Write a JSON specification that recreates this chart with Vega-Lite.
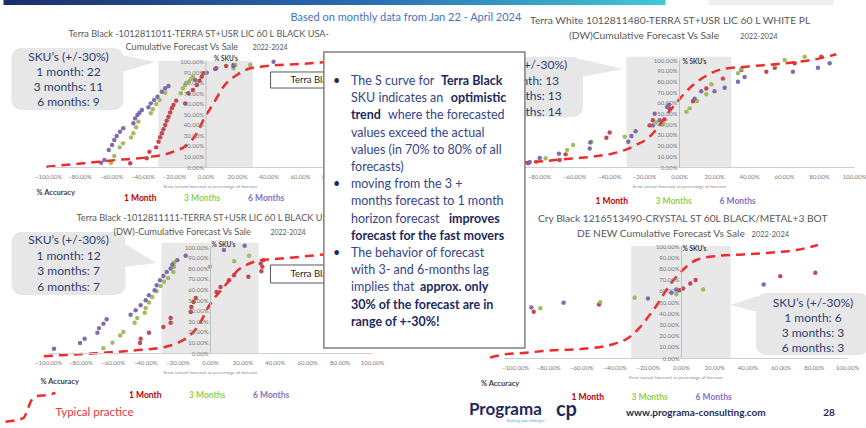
{
"$schema":"https://vega.github.io/schema/vega-lite/v6.json",
"background":"white",
"padding":0,
"bounds":"flush",
"align":"none",
"columns":2,
"spacing":{"row":79,"column":132},
"config":{"view":{"stroke":null},"font":"Lato",
 "axis":{"grid":false,"ticks":false,"zindex":1,"labelFont":"Lato","titleFont":"Lato","labelFontSize":6,"labelColor":"#7a7a7a","domainColor":"#d0d0d0","domainWidth":1,"labelFlush":false,"labelOverlap":false,"tickCount":12},
 "text":{"clip":false,"align":"left","baseline":"middle"},
 "legend":{"orient":"none","direction":"horizontal","symbolSize":0,"symbolStrokeWidth":0,"symbolOpacity":0,"labelOffset":0,"columnPadding":19,"labelFontSize":8.5,"labelFontWeight":"bold","labelFont":"Lato","labelColor":{"expr":"datum.label === '1 Month' ? '#c00000' : datum.label === '3 Months' ? '#92d050' : '#8a72c0'"}}},
"resolve":{"scale":{"color":"independent"},"legend":{"color":"independent"}},
"datasets":{
"pA":[
{"horizon":"1 Month","error":-0.478,"share":0.035},{"horizon":"1 Month","error":-0.373,"share":0.083},{"horizon":"1 Month","error":-0.356,"share":0.146},{"horizon":"1 Month","error":-0.313,"share":0.187},{"horizon":"1 Month","error":-0.298,"share":0.241},{"horizon":"1 Month","error":-0.288,"share":0.283},{"horizon":"1 Month","error":-0.277,"share":0.321},{"horizon":"1 Month","error":-0.267,"share":0.359},{"horizon":"1 Month","error":-0.256,"share":0.4},{"horizon":"1 Month","error":-0.246,"share":0.441},{"horizon":"1 Month","error":-0.235,"share":0.479},{"horizon":"1 Month","error":-0.224,"share":0.518},{"horizon":"1 Month","error":-0.214,"share":0.559},{"horizon":"1 Month","error":-0.203,"share":0.59},{"horizon":"1 Month","error":-0.186,"share":0.632},{"horizon":"1 Month","error":-0.129,"share":0.606},{"horizon":"1 Month","error":-0.108,"share":0.702},{"horizon":"1 Month","error":-0.08,"share":0.733},{"horizon":"1 Month","error":-0.055,"share":0.781},{"horizon":"1 Month","error":-0.038,"share":0.822},{"horizon":"1 Month","error":-0.024,"share":0.86},{"horizon":"1 Month","error":-0.013,"share":0.892},{"horizon":"1 Month","error":0.068,"share":0.94},{"horizon":"1 Month","error":0.131,"share":0.962},{"horizon":"1 Month","error":0.178,"share":0.971},
{"horizon":"3 Months","error":-0.6,"share":0.041},{"horizon":"3 Months","error":-0.579,"share":0.105},{"horizon":"3 Months","error":-0.545,"share":0.187},{"horizon":"3 Months","error":-0.524,"share":0.225},{"horizon":"3 Months","error":-0.473,"share":0.282},{"horizon":"3 Months","error":-0.458,"share":0.321},{"horizon":"3 Months","error":-0.441,"share":0.378},{"horizon":"3 Months","error":-0.426,"share":0.432},{"horizon":"3 Months","error":-0.347,"share":0.511},{"horizon":"3 Months","error":-0.334,"share":0.549},{"horizon":"3 Months","error":-0.313,"share":0.6},{"horizon":"3 Months","error":-0.292,"share":0.638},{"horizon":"3 Months","error":-0.256,"share":0.708},{"horizon":"3 Months","error":-0.157,"share":0.702},{"horizon":"3 Months","error":-0.144,"share":0.749},{"horizon":"3 Months","error":-0.129,"share":0.781},{"horizon":"3 Months","error":-0.108,"share":0.813},{"horizon":"3 Months","error":-0.093,"share":0.835},{"horizon":"3 Months","error":-0.08,"share":0.86},{"horizon":"3 Months","error":0.178,"share":0.94},{"horizon":"3 Months","error":0.189,"share":0.971},{"horizon":"3 Months","error":0.284,"share":0.971},
{"horizon":"6 Months","error":-0.663,"share":0.041},{"horizon":"6 Months","error":-0.642,"share":0.067},{"horizon":"6 Months","error":-0.614,"share":0.162},{"horizon":"6 Months","error":-0.593,"share":0.21},{"horizon":"6 Months","error":-0.579,"share":0.257},{"horizon":"6 Months","error":-0.564,"share":0.295},{"horizon":"6 Months","error":-0.543,"share":0.336},{"horizon":"6 Months","error":-0.522,"share":0.368},{"horizon":"6 Months","error":-0.458,"share":0.416},{"horizon":"6 Months","error":-0.447,"share":0.463},{"horizon":"6 Months","error":-0.432,"share":0.495},{"horizon":"6 Months","error":-0.419,"share":0.517},{"horizon":"6 Months","error":-0.404,"share":0.543},{"horizon":"6 Months","error":-0.362,"share":0.568},{"horizon":"6 Months","error":-0.347,"share":0.606},{"horizon":"6 Months","error":-0.326,"share":0.638},{"horizon":"6 Months","error":-0.305,"share":0.67},{"horizon":"6 Months","error":-0.277,"share":0.717},{"horizon":"6 Months","error":-0.256,"share":0.749},{"horizon":"6 Months","error":-0.235,"share":0.771},{"horizon":"6 Months","error":-0.066,"share":0.829},{"horizon":"6 Months","error":0.008,"share":0.898},{"horizon":"6 Months","error":0.061,"share":0.933},{"horizon":"6 Months","error":0.178,"share":0.962},{"horizon":"6 Months","error":0.432,"share":1.003}],
"cA":[{"error":-1.01,"share":0.003},{"error":-0.775,"share":0.035},{"error":-0.563,"share":0.067},{"error":-0.372,"share":0.092},{"error":-0.203,"share":0.146},{"error":-0.118,"share":0.21},{"error":-0.055,"share":0.321},{"error":-0.013,"share":0.448},{"error":0.051,"share":0.606},{"error":0.114,"share":0.765},{"error":0.199,"share":0.876},{"error":0.284,"share":0.94},{"error":0.389,"share":0.962},{"error":0.601,"share":0.981},{"error":0.8,"share":1.003}],
"pB":[
{"horizon":"1 Month","error":-0.862,"share":0.034},{"horizon":"1 Month","error":-0.682,"share":0.065},{"horizon":"1 Month","error":-0.648,"share":0.118},{"horizon":"1 Month","error":-0.415,"share":0.273},{"horizon":"1 Month","error":-0.396,"share":0.323},{"horizon":"1 Month","error":-0.168,"share":0.389},{"horizon":"1 Month","error":-0.149,"share":0.436},{"horizon":"1 Month","error":-0.082,"share":0.445},{"horizon":"1 Month","error":-0.053,"share":0.545},{"horizon":"1 Month","error":0.08,"share":0.614},{"horizon":"1 Month","error":0.156,"share":0.733},{"horizon":"1 Month","error":0.251,"share":0.826},{"horizon":"1 Month","error":0.356,"share":0.906},{"horizon":"1 Month","error":0.499,"share":0.891},{"horizon":"1 Month","error":0.547,"share":0.928},{"horizon":"1 Month","error":0.661,"share":0.969},{"horizon":"1 Month","error":0.813,"share":1.031},
{"horizon":"3 Months","error":-0.815,"share":0.047},{"horizon":"3 Months","error":-0.762,"share":0.081},{"horizon":"3 Months","error":-0.639,"share":0.159},{"horizon":"3 Months","error":-0.605,"share":0.206},{"horizon":"3 Months","error":-0.501,"share":0.237},{"horizon":"3 Months","error":-0.31,"share":0.283},{"horizon":"3 Months","error":-0.13,"share":0.417},{"horizon":"3 Months","error":-0.091,"share":0.405},{"horizon":"3 Months","error":0.042,"share":0.517},{"horizon":"3 Months","error":0.061,"share":0.548},{"horizon":"3 Months","error":0.103,"share":0.617},{"horizon":"3 Months","error":0.156,"share":0.68},{"horizon":"3 Months","error":0.185,"share":0.773},{"horizon":"3 Months","error":0.337,"share":0.876},{"horizon":"3 Months","error":0.356,"share":0.916},{"horizon":"3 Months","error":0.547,"share":0.953},{"horizon":"3 Months","error":0.604,"share":1.0},{"horizon":"3 Months","error":0.718,"share":1.031},
{"horizon":"6 Months","error":-0.853,"share":0.047},{"horizon":"6 Months","error":-0.796,"share":0.084},{"horizon":"6 Months","error":-0.686,"share":0.125},{"horizon":"6 Months","error":-0.51,"share":0.173},{"horizon":"6 Months","error":-0.507,"share":0.229},{"horizon":"6 Months","error":-0.29,"share":0.235},{"horizon":"6 Months","error":-0.272,"share":0.29},{"horizon":"6 Months","error":-0.248,"share":0.334},{"horizon":"6 Months","error":-0.149,"share":0.389},{"horizon":"6 Months","error":-0.139,"share":0.498},{"horizon":"6 Months","error":-0.11,"share":0.436},{"horizon":"6 Months","error":-0.068,"share":0.561},{"horizon":"6 Months","error":-0.057,"share":0.583},{"horizon":"6 Months","error":0.089,"share":0.639},{"horizon":"6 Months","error":0.127,"share":0.708},{"horizon":"6 Months","error":0.203,"share":0.708},{"horizon":"6 Months","error":0.261,"share":0.74},{"horizon":"6 Months","error":0.337,"share":0.797},{"horizon":"6 Months","error":0.375,"share":0.841},{"horizon":"6 Months","error":0.651,"share":0.891},{"horizon":"6 Months","error":0.794,"share":0.928},{"horizon":"6 Months","error":0.861,"share":0.969}],
"cB":[{"error":-1.0,"share":0.035},{"error":-0.872,"share":0.044},{"error":-0.758,"share":0.056},{"error":-0.644,"share":0.075},{"error":-0.491,"share":0.097},{"error":-0.339,"share":0.143},{"error":-0.244,"share":0.206},{"error":-0.168,"share":0.283},{"error":-0.11,"share":0.393},{"error":-0.072,"share":0.486},{"error":-0.025,"share":0.579},{"error":0.023,"share":0.673},{"error":0.08,"share":0.766},{"error":0.156,"share":0.853},{"error":0.251,"share":0.916},{"error":0.385,"share":0.938},{"error":0.537,"share":0.959},{"error":0.69,"share":0.984},{"error":0.804,"share":1.015},{"error":0.899,"share":1.053}],
"pC":[
{"horizon":"1 Month","error":-0.432,"share":0.094},{"horizon":"1 Month","error":-0.428,"share":0.134},{"horizon":"1 Month","error":-0.377,"share":0.191},{"horizon":"1 Month","error":-0.288,"share":0.245},{"horizon":"1 Month","error":-0.243,"share":0.286},{"horizon":"1 Month","error":-0.243,"share":0.33},{"horizon":"1 Month","error":-0.119,"share":0.387},{"horizon":"1 Month","error":-0.115,"share":0.434},{"horizon":"1 Month","error":-0.102,"share":0.482},{"horizon":"1 Month","error":-0.088,"share":0.519},{"horizon":"1 Month","error":0.041,"share":0.577},{"horizon":"1 Month","error":0.065,"share":0.624},{"horizon":"1 Month","error":0.117,"share":0.687},{"horizon":"1 Month","error":0.148,"share":0.735},{"horizon":"1 Month","error":0.237,"share":0.719},{"horizon":"1 Month","error":0.313,"share":0.846},{"horizon":"1 Month","error":0.323,"share":0.814},{"horizon":"1 Month","error":0.317,"share":0.773},{"horizon":"1 Month","error":0.329,"share":0.877},
{"horizon":"3 Months","error":-0.658,"share":0.046},{"horizon":"3 Months","error":-0.602,"share":0.097},{"horizon":"3 Months","error":-0.555,"share":0.166},{"horizon":"3 Months","error":-0.535,"share":0.198},{"horizon":"3 Months","error":-0.465,"share":0.286},{"horizon":"3 Months","error":-0.449,"share":0.33},{"horizon":"3 Months","error":-0.403,"share":0.381},{"horizon":"3 Months","error":-0.397,"share":0.425},{"horizon":"3 Months","error":-0.377,"share":0.476},{"horizon":"3 Months","error":-0.356,"share":0.529},{"horizon":"3 Months","error":-0.329,"share":0.583},{"horizon":"3 Months","error":-0.305,"share":0.633},{"horizon":"3 Months","error":-0.284,"share":0.672},{"horizon":"3 Months","error":-0.259,"share":0.709},{"horizon":"3 Months","error":-0.226,"share":0.766},{"horizon":"3 Months","error":-0.222,"share":0.814},{"horizon":"3 Months","error":-0.222,"share":0.855},{"horizon":"3 Months","error":0.0,"share":0.814},{"horizon":"3 Months","error":0.149,"share":0.867},{"horizon":"3 Months","error":0.241,"share":0.918},
{"horizon":"6 Months","error":-0.963,"share":0.04},{"horizon":"6 Months","error":-0.802,"share":0.094},{"horizon":"6 Months","error":-0.774,"share":0.134},{"horizon":"6 Months","error":-0.695,"share":0.191},{"horizon":"6 Months","error":-0.685,"share":0.235},{"horizon":"6 Months","error":-0.658,"share":0.277},{"horizon":"6 Months","error":-0.638,"share":0.318},{"horizon":"6 Months","error":-0.49,"share":0.362},{"horizon":"6 Months","error":-0.459,"share":0.403},{"horizon":"6 Months","error":-0.428,"share":0.45},{"horizon":"6 Months","error":-0.397,"share":0.498},{"horizon":"6 Months","error":-0.377,"share":0.545},{"horizon":"6 Months","error":-0.342,"share":0.593},{"horizon":"6 Months","error":-0.329,"share":0.64},{"horizon":"6 Months","error":-0.309,"share":0.687},{"horizon":"6 Months","error":-0.288,"share":0.728},{"horizon":"6 Months","error":-0.267,"share":0.766},{"horizon":"6 Months","error":-0.243,"share":0.798},{"horizon":"6 Months","error":-0.232,"share":0.836},{"horizon":"6 Months","error":-0.202,"share":0.877},{"horizon":"6 Months","error":-0.15,"share":0.918},{"horizon":"6 Months","error":0.086,"share":0.972},{"horizon":"6 Months","error":0.214,"share":1.013}],
"cC":[{"error":-1.025,"share":-0.03},{"error":-0.881,"share":-0.018},{"error":-0.675,"share":0.001},{"error":-0.469,"share":0.024},{"error":-0.284,"share":0.055},{"error":-0.181,"share":0.109},{"error":-0.119,"share":0.172},{"error":-0.078,"share":0.245},{"error":-0.047,"share":0.324},{"error":-0.016,"share":0.419},{"error":0.025,"share":0.514},{"error":0.077,"share":0.608},{"error":0.128,"share":0.703},{"error":0.173,"share":0.782},{"error":0.231,"share":0.836},{"error":0.313,"share":0.877},{"error":0.395,"share":0.887},{"error":0.56,"share":0.909},{"error":0.704,"share":0.931},{"error":0.9,"share":0.95}],
"tp":[{"error":-1.262,"share":-0.649},{"error":-1.194,"share":-0.633},{"error":-1.151,"share":-0.614},{"error":-1.127,"share":-0.538},{"error":-1.108,"share":-0.463},{"error":-1.071,"share":-0.406},{"error":-1.009,"share":-0.397},{"error":-0.954,"share":-0.378}],
"pD":[
{"horizon":"1 Month","error":-0.887,"share":0.412},{"horizon":"1 Month","error":-0.494,"share":0.478},{"horizon":"1 Month","error":-0.008,"share":0.606},{"horizon":"1 Month","error":0.012,"share":0.621},{"horizon":"1 Month","error":0.056,"share":0.666},{"horizon":"1 Month","error":0.088,"share":0.696},{"horizon":"1 Month","error":0.598,"share":0.731},{"horizon":"1 Month","error":0.809,"share":0.761},
{"horizon":"3 Months","error":-0.847,"share":0.445},{"horizon":"3 Months","error":-0.486,"share":0.499},{"horizon":"3 Months","error":-0.279,"share":0.538},{"horizon":"3 Months","error":-0.028,"share":0.57},{"horizon":"3 Months","error":0.133,"share":0.612},
{"horizon":"6 Months","error":-0.901,"share":0.452},{"horizon":"6 Months","error":-0.707,"share":0.493},{"horizon":"6 Months","error":-0.199,"share":0.532},{"horizon":"6 Months","error":-0.058,"share":0.582},{"horizon":"6 Months","error":-0.028,"share":0.612},{"horizon":"6 Months","error":0.498,"share":0.657}],
"cD":[{"error":-1.15,"share":0.005},{"error":-1.072,"share":0.03},{"error":-0.952,"share":0.045},{"error":-0.771,"share":0.069},{"error":-0.57,"share":0.084},{"error":-0.41,"share":0.123},{"error":-0.309,"share":0.188},{"error":-0.249,"share":0.272},{"error":-0.189,"share":0.383},{"error":-0.139,"share":0.487},{"error":-0.088,"share":0.607},{"error":-0.028,"share":0.725},{"error":0.032,"share":0.815},{"error":0.092,"share":0.875},{"error":0.213,"share":0.911},{"error":0.373,"share":0.925},{"error":0.534,"share":0.94},{"error":0.695,"share":0.964},{"error":0.825,"share":1.009}]
},
"concat":[
{"width":324,"height":107,
 "layer":[
  {"data":{"values":[{}]},"mark":{"type":"rect","color":"#e8e8e8"},
   "encoding":{"x":{"datum":-0.3,"type":"quantitative","scale":{"domain":[-1,1.0571],"nice":false,"zero":false},"axis":{"zindex":1,"tickCount":12,"labelOverlap":false,"values":[-1,-0.8,-0.6,-0.4,-0.2,0,0.2,0.4,0.6,0.8,1],"format":".2%","labelPadding":6,"title":"Error (actual-forecast) as percentage of forecast","titleFontSize":4.5,"titleFontWeight":"normal","titleColor":"#8c8c8c","titlePadding":4}},
    "x2":{"datum":0.3},
    "y":{"datum":0,"type":"quantitative","scale":{"domain":[0,1.019],"nice":false,"zero":false},"axis":{"zindex":1,"tickCount":12,"labelOverlap":false,"values":[0,0.1,0.2,0.3,0.4,0.5,0.6,0.7,0.8,0.9,1],"format":".2%","offset":-157.5,"labelPadding":2,"domainColor":"#bfbfbf","title":"% SKU’s","titleAngle":0,"titleAlign":"left","titleBaseline":"middle","titleX":8,"titleY":-2,"titleFontSize":6.5,"titleFontWeight":"bold","titleColor":"#404040"}},
    "y2":{"datum":1.01}}},
  {"data":{"values":[{}]},"mark":{"type":"rect","clip":false,"fill":{"x1":0,"x2":1,"y1":0,"y2":0,"gradient":"linear","stops":[{"offset":0,"color":"#1b2d6b"},{"offset":0.55,"color":"#2a6db3"},{"offset":1,"color":"#41c9d8"}]}},
   "encoding":{"x":{"datum":-1.2825},"x2":{"datum":2.921},"y":{"datum":1.59},"y2":{"datum":1.543}}},
  {"data":{"values":[{}]},"mark":{"type":"rect","clip":false,"color":"#efefef"},
   "encoding":{"x":{"datum":3.194},"x2":{"datum":3.987},"y":{"datum":1.59},"y2":{"datum":1.543}}},
  {"data":{"name":"pA"},"mark":{"type":"circle","size":20,"opacity":0.95},
   "encoding":{"x":{"field":"error","type":"quantitative"},"y":{"field":"share","type":"quantitative"},
    "color":{"field":"horizon","type":"nominal","scale":{"domain":["1 Month","3 Months","6 Months"],"range":["#c0404a","#9bbb59","#7e63a8"]},
     "legend":{"title":null,"legendX":67.5,"legendY":133.5}}}},
  {"data":{"name":"cA"},"mark":{"type":"line","clip":false,"color":"#ef2b2d","strokeWidth":2.5,"strokeDash":[9,6],"interpolate":"monotone"},
   "encoding":{"x":{"field":"error","type":"quantitative"},"y":{"field":"share","type":"quantitative"}}},
  {"data":{"values":[{}]},"mark":{"type":"rect","clip":false,"fill":"#e7e7e7","cornerRadius":10},
   "encoding":{"x":{"datum":-1.232},"x2":{"datum":-0.521},"y":{"datum":1.133},"y2":{"datum":0.543}}},
  {"data":{"values":[{}]},"mark":{"type":"point","clip":false,"shape":"M -2 -5 L 32 2 L -2 12 Z","size":4,"filled":true,"fill":"#e7e7e7","opacity":1,"strokeWidth":0},
   "encoding":{"x":{"datum":-0.521},"y":{"datum":1.019}}},
  {"data":{"values":[{}]},"mark":{"type":"text","text":["SKU’s (+/-30%)","1 month: 22","3 months: 11","6 months: 9"],"lineHeight":15,"align":"center","fontSize":12,"color":"#2f3d73"},
   "encoding":{"x":{"datum":-0.87},"y":{"datum":1.048}}},
  {"data":{"values":[{}]},"mark":{"type":"rect","clip":false,"fill":"white","stroke":"#595959","strokeWidth":1},
   "encoding":{"x":{"datum":0.413},"x2":{"datum":1.003},"y":{"datum":0.905},"y2":{"datum":0.752}}},
  {"data":{"values":[{}]},"mark":{"type":"text","text":"Terra Black","fontSize":9.5,"color":"#262626"},
   "encoding":{"x":{"datum":0.54},"y":{"datum":0.829}}},
  {"data":{"values":[{}]},"mark":{"type":"text","text":"Based on monthly data from Jan 22  - April 2024","fontSize":11,"color":"#4472c4"},
   "encoding":{"x":{"datum":0.54},"y":{"datum":1.419}}},
  {"data":{"values":[{}]},"mark":{"type":"text","text":"Terra Black -1012811011-TERRA ST+USR LIC 60 L  BLACK USA-","fontSize":9.2,"color":"#595959"},
   "encoding":{"x":{"datum":-0.87},"y":{"datum":1.267}}},
  {"data":{"values":[{}]},"mark":{"type":"text","text":"Cumulative Forecast Vs Sale","fontSize":9.2,"color":"#595959"},
   "encoding":{"x":{"datum":-0.508},"y":{"datum":1.143}}},
  {"data":{"values":[{}]},"mark":{"type":"text","text":"2022-2024","fontSize":7,"color":"#595959"},
   "encoding":{"x":{"datum":0.298},"y":{"datum":1.133}}},
  {"data":{"values":[{}]},"mark":{"type":"text","text":"% Accuracy","fontSize":7.5,"fontWeight":"bold","color":"#404040"},
   "encoding":{"x":{"datum":-1.073},"y":{"datum":-0.248}}}
 ]},
{"width":350,"height":107,
 "layer":[
  {"data":{"values":[{}]},"mark":{"type":"rect","color":"#e8e8e8"},
   "encoding":{"x":{"datum":-0.3,"type":"quantitative","scale":{"domain":[-1,1],"nice":false,"zero":false},"axis":{"zindex":1,"tickCount":12,"labelOverlap":false,"values":[-1,-0.8,-0.6,-0.4,-0.2,0,0.2,0.4,0.6,0.8,1],"format":".2%","labelPadding":6,"title":"Error (actual-forecast) as percentage of forecast","titleFontSize":4.5,"titleFontWeight":"normal","titleColor":"#8c8c8c","titlePadding":4}},
    "x2":{"datum":0.3},
    "y":{"datum":0,"type":"quantitative","scale":{"domain":[0,1],"nice":false,"zero":false},"axis":{"zindex":1,"tickCount":12,"labelOverlap":false,"values":[0,0.1,0.2,0.3,0.4,0.5,0.6,0.7,0.8,0.9,1],"format":".2%","offset":-175,"labelPadding":2,"domainColor":"#bfbfbf","title":"% SKU’s","titleAngle":0,"titleAlign":"left","titleBaseline":"middle","titleX":3,"titleY":1,"titleFontSize":6.5,"titleFontWeight":"bold","titleColor":"#404040"}},
    "y2":{"datum":1.03}}},
  {"data":{"name":"pB"},"mark":{"type":"circle","size":20,"opacity":0.95},
   "encoding":{"x":{"field":"error","type":"quantitative"},"y":{"field":"share","type":"quantitative"},
    "color":{"field":"horizon","type":"nominal","scale":{"domain":["1 Month","3 Months","6 Months"],"range":["#c0404a","#9bbb59","#7e63a8"]},
     "legend":{"title":null,"legendX":83,"legendY":136.5}}}},
  {"data":{"name":"cB"},"mark":{"type":"line","clip":false,"color":"#ef2b2d","strokeWidth":2.5,"strokeDash":[9,6],"interpolate":"monotone"},
   "encoding":{"x":{"field":"error","type":"quantitative"},"y":{"field":"share","type":"quantitative"}}},
  {"data":{"values":[{}]},"mark":{"type":"rect","clip":false,"fill":"#e7e7e7","cornerRadius":10},
   "encoding":{"x":{"datum":-1.189},"x2":{"datum":-0.549},"y":{"datum":1.028},"y2":{"datum":0.467}}},
  {"data":{"values":[{}]},"mark":{"type":"point","clip":false,"shape":"M -2 -6 L 40 4 L -2 12 Z","size":4,"filled":true,"fill":"#e7e7e7","opacity":1,"strokeWidth":0},
   "encoding":{"x":{"datum":-0.549},"y":{"datum":0.953}}},
  {"data":{"values":[{}]},"mark":{"type":"text","text":["SKU’s (+/-30%)","1 month: 13","3 months: 13","6 months: 14"],"lineHeight":15.5,"align":"center","fontSize":12,"color":"#2f3d73"},
   "encoding":{"x":{"datum":-0.869},"y":{"datum":0.953}}},
  {"data":{"values":[{}]},"mark":{"type":"text","text":"Terra White 1012811480-TERRA ST+USR LIC 60 L  WHITE PL","fontSize":10.3,"color":"#595959"},
   "encoding":{"x":{"datum":-0.851},"y":{"datum":1.364}}},
  {"data":{"values":[{}]},"mark":{"type":"text","text":"(DW)Cumulative Forecast Vs Sale","fontSize":10.3,"color":"#595959"},
   "encoding":{"x":{"datum":-0.629},"y":{"datum":1.224}}},
  {"data":{"values":[{}]},"mark":{"type":"text","text":"2022-2024","fontSize":7.5,"color":"#595959"},
   "encoding":{"x":{"datum":0.349},"y":{"datum":1.215}}},
  {"data":{"values":[{}]},"mark":{"type":"text","text":"% Accuracy","fontSize":7.5,"fontWeight":"bold","color":"#404040"},
   "encoding":{"x":{"datum":-1.189},"y":{"datum":-0.28}}}
 ]},
{"width":324,"height":107,
 "layer":[
  {"data":{"values":[{}]},"mark":{"type":"rect","color":"#e8e8e8"},
   "encoding":{"x":{"datum":-0.3,"type":"quantitative","scale":{"domain":[-1,1],"nice":false,"zero":false},"axis":{"zindex":1,"tickCount":12,"labelOverlap":false,"values":[-1,-0.8,-0.6,-0.4,-0.2,0,0.2,0.4,0.6,0.8,1],"format":".2%","labelPadding":6,"title":"Error (actual-forecast) as percentage of forecast","titleFontSize":4.5,"titleFontWeight":"normal","titleColor":"#8c8c8c","titlePadding":4}},
    "x2":{"datum":0.3},
    "y":{"datum":0,"type":"quantitative","scale":{"domain":[0,1.0104],"nice":false,"zero":false},"axis":{"zindex":1,"tickCount":12,"labelOverlap":false,"values":[0,0.1,0.2,0.3,0.4,0.5,0.6,0.7,0.8,0.9,1],"format":".2%","offset":-162,"labelPadding":2,"domainColor":"#bfbfbf","title":"% SKU’s","titleAngle":0,"titleAlign":"left","titleBaseline":"middle","titleX":1,"titleY":-2,"titleFontSize":6.5,"titleFontWeight":"bold","titleColor":"#404040"}},
    "y2":{"datum":1.04}}},
  {"data":{"name":"pC"},"mark":{"type":"circle","size":20,"opacity":0.95},
   "encoding":{"x":{"field":"error","type":"quantitative"},"y":{"field":"share","type":"quantitative"},
    "color":{"field":"horizon","type":"nominal","scale":{"domain":["1 Month","3 Months","6 Months"],"range":["#c0404a","#9bbb59","#7e63a8"]},
     "legend":{"title":null,"legendX":72.5,"legendY":144.5}}}},
  {"data":{"name":"cC"},"mark":{"type":"line","clip":false,"color":"#ef2b2d","strokeWidth":2.5,"strokeDash":[9,6],"interpolate":"monotone"},
   "encoding":{"x":{"field":"error","type":"quantitative"},"y":{"field":"share","type":"quantitative"}}},
  {"data":{"name":"tp"},"mark":{"type":"line","clip":false,"color":"#ef2b2d","strokeWidth":2.5,"strokeDash":[9,6],"interpolate":"monotone"},
   "encoding":{"x":{"field":"error","type":"quantitative"},"y":{"field":"share","type":"quantitative"}}},
  {"data":{"values":[{}]},"mark":{"type":"text","text":"Typical practice","fontSize":11.5,"color":"#e8383d"},
   "encoding":{"x":{"datum":-0.954},"y":{"datum":-0.567}}},
  {"data":{"values":[{}]},"mark":{"type":"rect","clip":false,"fill":"#e7e7e7","cornerRadius":10},
   "encoding":{"x":{"datum":-1.225},"x2":{"datum":-0.522},"y":{"datum":1.143},"y2":{"datum":0.548}}},
  {"data":{"values":[{}]},"mark":{"type":"point","clip":false,"shape":"M -2 -12 L 31 8 L -2 12 Z","size":4,"filled":true,"fill":"#e7e7e7","opacity":1,"strokeWidth":0},
   "encoding":{"x":{"datum":-0.522},"y":{"datum":0.925}}},
  {"data":{"values":[{}]},"mark":{"type":"text","text":["SKU’s (+/-30%)","1 month: 12","3 months: 7","6 months: 7"],"lineHeight":15.5,"align":"center","fontSize":12,"color":"#2f3d73"},
   "encoding":{"x":{"datum":-0.873},"y":{"datum":1.067}}},
  {"data":{"values":[{}]},"mark":{"type":"rect","clip":false,"fill":"white","stroke":"#595959","strokeWidth":1},
   "encoding":{"x":{"datum":0.373},"x2":{"datum":0.948},"y":{"datum":0.831},"y2":{"datum":0.661}}},
  {"data":{"values":[{}]},"mark":{"type":"text","text":"Terra Black","fontSize":9.5,"color":"#262626"},
   "encoding":{"x":{"datum":0.497},"y":{"datum":0.746}}},
  {"data":{"values":[{}]},"mark":{"type":"text","text":"Terra Black -1012811111-TERRA ST+USR LIC 60 L  BLACK USA-","fontSize":9.2,"color":"#595959"},
   "encoding":{"x":{"datum":-0.824},"y":{"datum":1.275}}},
  {"data":{"values":[{}]},"mark":{"type":"text","text":"(DW)-Cumulative Forecast Vs Sale","fontSize":9.2,"color":"#595959"},
   "encoding":{"x":{"datum":-0.596},"y":{"datum":1.143}}},
  {"data":{"values":[{}]},"mark":{"type":"text","text":"2022-2024","fontSize":7,"color":"#595959"},
   "encoding":{"x":{"datum":0.373},"y":{"datum":1.133}}},
  {"data":{"values":[{}]},"mark":{"type":"text","text":"% Accuracy","fontSize":7.5,"fontWeight":"bold","color":"#404040"},
   "encoding":{"x":{"datum":-1.046},"y":{"datum":-0.274}}}
 ]},
{"width":343,"height":112,
 "layer":[
  {"data":{"values":[{}]},"mark":{"type":"rect","color":"#e8e8e8"},
   "encoding":{"x":{"datum":-0.3,"type":"quantitative","scale":{"domain":[-1.066,1],"nice":false,"zero":false},"axis":{"zindex":1,"tickCount":12,"labelOverlap":false,"values":[-1,-0.8,-0.6,-0.4,-0.2,0,0.2,0.4,0.6,0.8,1],"format":".2%","labelPadding":6,"title":"Error (actual-forecast) as percentage of forecast","titleFontSize":4.5,"titleFontWeight":"normal","titleColor":"#8c8c8c","titlePadding":4}},
    "x2":{"datum":0.3},
    "y":{"datum":0,"type":"quantitative","scale":{"domain":[0,1],"nice":false,"zero":false},"axis":{"zindex":1,"tickCount":12,"labelOverlap":false,"values":[0,0.1,0.2,0.3,0.4,0.5,0.6,0.7,0.8,0.9,1],"format":".2%","offset":-177,"labelPadding":2,"domainColor":"#bfbfbf","title":"% SKU’s","titleAngle":0,"titleAlign":"left","titleBaseline":"middle","titleX":1,"titleY":2,"titleFontSize":6.5,"titleFontWeight":"bold","titleColor":"#404040"}},
    "y2":{"datum":1.0}}},
  {"data":{"name":"pD"},"mark":{"type":"circle","size":20,"opacity":0.95},
   "encoding":{"x":{"field":"error","type":"quantitative"},"y":{"field":"share","type":"quantitative"},
    "color":{"field":"horizon","type":"nominal","scale":{"domain":["1 Month","3 Months","6 Months"],"range":["#c0404a","#9bbb59","#7e63a8"]},
     "legend":{"title":null,"legendX":59,"legendY":146.5}}}},
  {"data":{"name":"cD"},"mark":{"type":"line","clip":false,"color":"#ef2b2d","strokeWidth":2.5,"strokeDash":[9,6],"interpolate":"monotone"},
   "encoding":{"x":{"field":"error","type":"quantitative"},"y":{"field":"share","type":"quantitative"}}},
  {"data":{"values":[{}]},"mark":{"type":"rect","clip":false,"fill":"#e7e7e7","cornerRadius":10},
   "encoding":{"x":{"datum":0.452},"x2":{"datum":1.133},"y":{"datum":0.58},"y2":{"datum":0.027}}},
  {"data":{"values":[{}]},"mark":{"type":"point","clip":false,"shape":"M 2 -7 L -26 2 L 2 9 Z","size":4,"filled":true,"fill":"#e7e7e7","opacity":1,"strokeWidth":0},
   "encoding":{"x":{"datum":0.452},"y":{"datum":0.491}}},
  {"data":{"values":[{}]},"mark":{"type":"text","text":["SKU’s (+/-30%)","1 month: 6","3 months: 3","6 months: 3"],"lineHeight":15,"align":"center","fontSize":12,"color":"#2f3d73"},
   "encoding":{"x":{"datum":0.795},"y":{"datum":0.491}}},
  {"data":{"values":[{}]},"mark":{"type":"text","text":"Cry Black 1216513490-CRYSTAL ST 60L  BLACK/METAL+3 BOT","fontSize":10.2,"color":"#595959"},
   "encoding":{"x":{"datum":-0.861},"y":{"datum":1.241}}},
  {"data":{"values":[{}]},"mark":{"type":"text","text":"DE NEW Cumulative Forecast Vs Sale","fontSize":10.2,"color":"#595959"},
   "encoding":{"x":{"datum":-0.627},"y":{"datum":1.107}}},
  {"data":{"values":[{}]},"mark":{"type":"text","text":"2022-2024","fontSize":7.5,"color":"#595959"},
   "encoding":{"x":{"datum":0.425},"y":{"datum":1.098}}},
  {"data":{"values":[{}]},"mark":{"type":"text","text":"% Accuracy","fontSize":7.5,"fontWeight":"bold","color":"#404040"},
   "encoding":{"x":{"datum":-1.205},"y":{"datum":-0.232}}},
  {"data":{"values":[{}]},"mark":{"type":"text","text":"Programa","fontSize":17,"fontWeight":"bold","color":"#1f2a5c"},
   "encoding":{"x":{"datum":-1.277},"y":{"datum":-0.464}}},
  {"data":{"values":[{}]},"mark":{"type":"text","text":"cp","fontSize":20,"fontWeight":"bold","color":"#1f2a5c"},
   "encoding":{"x":{"datum":-0.753},"y":{"datum":-0.464}}},
  {"data":{"values":[{}]},"mark":{"type":"text","text":"Realising your challenges","align":"center","fontSize":3.5,"color":"#3da5d9"},
   "encoding":{"x":{"datum":-0.937},"y":{"datum":-0.563}}},
  {"data":{"values":[{}]},"mark":{"type":"text","text":"www.programa-consulting.com","fontSize":10,"fontWeight":"bold","color":"#1f2a5c"},
   "encoding":{"x":{"datum":-0.331},"y":{"datum":-0.491}}},
  {"data":{"values":[{}]},"mark":{"type":"text","text":"28","align":"center","fontSize":10,"fontWeight":"bold","color":"#1f2a5c"},
   "encoding":{"x":{"datum":0.892},"y":{"datum":-0.491}}},
  {"data":{"values":[{}]},"mark":{"type":"rect","clip":false,"fill":"white","stroke":"#7f7f7f","strokeWidth":1.5},
   "encoding":{"x":{"datum":-2.151},"x2":{"datum":-0.94},"y":{"datum":2.732},"y2":{"datum":0.089}}},
  {"data":{"values":[{}]},"mark":{"type":"text","text":"•","fontSize":12.5,"color":"#1c2a5e"},"encoding":{"x":{"datum":-2.096},"y":{"datum":2.4732}}},
  {"data":{"values":[{}]},"mark":{"type":"text","text":"•","fontSize":12.5,"color":"#1c2a5e"},"encoding":{"x":{"datum":-2.096},"y":{"datum":1.5518}}},
  {"data":{"values":[{}]},"mark":{"type":"text","text":"•","fontSize":12.5,"color":"#1c2a5e"},"encoding":{"x":{"datum":-2.096},"y":{"datum":0.9375}}},
  {"data":{"values":[{}]},"mark":{"type":"text","text":"The S curve for","fontSize":12.5,"color":"#34458a"},"encoding":{"x":{"datum":-1.988},"y":{"datum":2.4732}}},
  {"data":{"values":[{}]},"mark":{"type":"text","text":"Terra Black","fontSize":12.5,"fontWeight":"bold","color":"#1c2a5e"},"encoding":{"x":{"datum":-1.446},"y":{"datum":2.4732}}},
  {"data":{"values":[{}]},"mark":{"type":"text","text":"SKU indicates an","fontSize":12.5,"color":"#34458a"},"encoding":{"x":{"datum":-1.988},"y":{"datum":2.3196}}},
  {"data":{"values":[{}]},"mark":{"type":"text","text":"optimistic","fontSize":12.5,"fontWeight":"bold","color":"#1c2a5e"},"encoding":{"x":{"datum":-1.386},"y":{"datum":2.3196}}},
  {"data":{"values":[{}]},"mark":{"type":"text","text":"trend","fontSize":12.5,"fontWeight":"bold","color":"#1c2a5e"},"encoding":{"x":{"datum":-1.988},"y":{"datum":2.1661}}},
  {"data":{"values":[{}]},"mark":{"type":"text","text":"where the forecasted","fontSize":12.5,"color":"#34458a"},"encoding":{"x":{"datum":-1.765},"y":{"datum":2.1661}}},
  {"data":{"values":[{}]},"mark":{"type":"text","text":"values exceed the actual","fontSize":12.5,"color":"#34458a"},"encoding":{"x":{"datum":-1.988},"y":{"datum":2.0125}}},
  {"data":{"values":[{}]},"mark":{"type":"text","text":"values (in 70% to 80% of all","fontSize":12.5,"color":"#34458a"},"encoding":{"x":{"datum":-1.988},"y":{"datum":1.8589}}},
  {"data":{"values":[{}]},"mark":{"type":"text","text":"forecasts)","fontSize":12.5,"color":"#34458a"},"encoding":{"x":{"datum":-1.988},"y":{"datum":1.7054}}},
  {"data":{"values":[{}]},"mark":{"type":"text","text":"moving from the 3 +","fontSize":12.5,"color":"#34458a"},"encoding":{"x":{"datum":-1.988},"y":{"datum":1.5518}}},
  {"data":{"values":[{}]},"mark":{"type":"text","text":"months forecast to 1 month","fontSize":12.5,"color":"#34458a"},"encoding":{"x":{"datum":-1.988},"y":{"datum":1.3982}}},
  {"data":{"values":[{}]},"mark":{"type":"text","text":"horizon forecast","fontSize":12.5,"color":"#34458a"},"encoding":{"x":{"datum":-1.988},"y":{"datum":1.2446}}},
  {"data":{"values":[{}]},"mark":{"type":"text","text":"improves","fontSize":12.5,"fontWeight":"bold","color":"#1c2a5e"},"encoding":{"x":{"datum":-1.398},"y":{"datum":1.2446}}},
  {"data":{"values":[{}]},"mark":{"type":"text","text":"forecast for the fast movers","fontSize":12.5,"fontWeight":"bold","color":"#1c2a5e"},"encoding":{"x":{"datum":-1.988},"y":{"datum":1.0911}}},
  {"data":{"values":[{}]},"mark":{"type":"text","text":"The behavior of forecast","fontSize":12.5,"color":"#34458a"},"encoding":{"x":{"datum":-1.988},"y":{"datum":0.9375}}},
  {"data":{"values":[{}]},"mark":{"type":"text","text":"with 3- and 6-months lag","fontSize":12.5,"color":"#34458a"},"encoding":{"x":{"datum":-1.988},"y":{"datum":0.7839}}},
  {"data":{"values":[{}]},"mark":{"type":"text","text":"implies that","fontSize":12.5,"color":"#34458a"},"encoding":{"x":{"datum":-1.988},"y":{"datum":0.6304}}},
  {"data":{"values":[{}]},"mark":{"type":"text","text":"approx. only","fontSize":12.5,"fontWeight":"bold","color":"#1c2a5e"},"encoding":{"x":{"datum":-1.572},"y":{"datum":0.6304}}},
  {"data":{"values":[{}]},"mark":{"type":"text","text":"30% of the forecast are in","fontSize":12.5,"fontWeight":"bold","color":"#1c2a5e"},"encoding":{"x":{"datum":-1.988},"y":{"datum":0.4768}}},
  {"data":{"values":[{}]},"mark":{"type":"text","text":"range of +-30%!","fontSize":12.5,"fontWeight":"bold","color":"#1c2a5e"},"encoding":{"x":{"datum":-1.988},"y":{"datum":0.3232}}}
 ]}
]
}
